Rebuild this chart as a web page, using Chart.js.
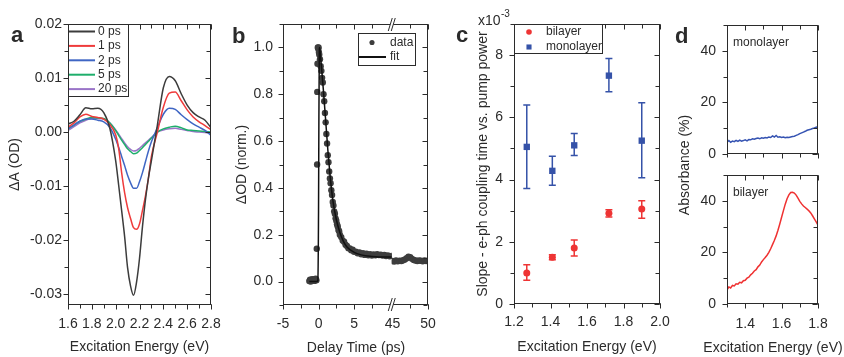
<!DOCTYPE html>
<html>
<head>
<meta charset="utf-8">
<title>Transient absorption and absorbance</title>
<script src="https://cdn.jsdelivr.net/npm/chart.js@4"></script>
<style>
  html, body { margin: 0; background: #fff; }
  #wrap { position: relative; width: 844px; height: 357px; }
  #wrap canvas { position: absolute; left: 0; top: 0; }
</style>
</head>
<body>
<div id="wrap">
  <canvas id="panelA" width="844" height="357"></canvas>
  <canvas id="panelB" width="844" height="357"></canvas>
  <canvas id="panelC" width="844" height="357"></canvas>
  <canvas id="panelDTop" width="844" height="357"></canvas>
  <canvas id="panelDBottom" width="844" height="357"></canvas>
</div>
<script>
// ---- panel a: transient spectra (dA in OD) ----
const aEnergy = [1.60, 1.65, 1.70, 1.75, 1.80, 1.85, 1.90, 1.95, 2.00, 2.025, 2.05, 2.075, 2.10, 2.125, 2.15, 2.175, 2.20, 2.225, 2.25, 2.275, 2.30, 2.35, 2.40, 2.45, 2.50, 2.55, 2.60, 2.65, 2.70, 2.75, 2.80];
const dA0ps = [0.0015, 0.0020, 0.0032, 0.0045, 0.0043, 0.0044, 0.0036, 0.0008, -0.0053, -0.0098, -0.0145, -0.0193, -0.0251, -0.0285, -0.0302, -0.0278, -0.0234, -0.0175, -0.0125, -0.0085, -0.0053, 0.0013, 0.0082, 0.0103, 0.0095, 0.0071, 0.0050, 0.0036, 0.0028, 0.0022, 0.0008];
const dA1ps = [0.0009, 0.0017, 0.0028, 0.0033, 0.0029, 0.0027, 0.0024, 0.0014, -0.0005, -0.0030, -0.0075, -0.0112, -0.0140, -0.0160, -0.0177, -0.0180, -0.0170, -0.0145, -0.0118, -0.0085, -0.0045, 0.0000, 0.0046, 0.0072, 0.0074, 0.0058, 0.0041, 0.0028, 0.0019, 0.0012, 0.0004];
const dA2ps = [0.0006, 0.0013, 0.0020, 0.0024, 0.0024, 0.0022, 0.0019, 0.0009, -0.0013, -0.0028, -0.0045, -0.0062, -0.0080, -0.0094, -0.0104, -0.0104, -0.0092, -0.0075, -0.0055, -0.0035, -0.0018, 0.0008, 0.0033, 0.0044, 0.0042, 0.0032, 0.0023, 0.0015, 0.0009, 0.0003, -0.0006];
const dA5ps = [0.0006, 0.0013, 0.0020, 0.0024, 0.0027, 0.0026, 0.0025, 0.0017, 0.0003, -0.0006, -0.0015, -0.0023, -0.0031, -0.0036, -0.0040, -0.0039, -0.0034, -0.0029, -0.0023, -0.0017, -0.0011, 0.0000, 0.0006, 0.0009, 0.0011, 0.0008, 0.0004, 0.0003, 0.0002, 0.0001, 0.0000];
const dA20ps = [0.0003, 0.0010, 0.0017, 0.0022, 0.0025, 0.0025, 0.0024, 0.0017, 0.0004, -0.0004, -0.0012, -0.0020, -0.0027, -0.0032, -0.0035, -0.0034, -0.0030, -0.0025, -0.0020, -0.0015, -0.0010, 0.0000, 0.0004, 0.0006, 0.0007, 0.0005, 0.0003, 0.0001, 0.0000, -0.0001, -0.0002];
const aEnergyTicks = [1.6, 1.8, 2.0, 2.2, 2.4, 2.6, 2.8];
const aSignalTicks = [-0.03, -0.02, -0.01, 0, 0.01, 0.02];

// ---- panel b: normalised kinetics, broken time axis ----
const bEarlyTime = [-1.3, -1.2, -1.1, -1.0, -0.9, -0.8, -0.7, -0.6, -0.5, -0.4, -0.3, -0.25, -0.2, -0.18, -0.15, -0.1, -0.05, 0.0, 0.05, 0.1, 0.2, 0.3, 0.4, 0.5, 0.6, 0.7, 0.8, 0.9, 1.0, 1.1, 1.2, 1.3, 1.4, 1.5, 1.6, 1.7, 1.8, 1.9, 2.0, 2.1, 2.2, 2.3, 2.4, 2.5, 2.6, 2.7, 2.8, 2.9, 3.0, 3.2, 3.4, 3.6, 3.8, 4.0, 4.2, 4.4, 4.6, 4.8, 5.0, 5.25, 5.5, 5.75, 6.0, 6.25, 6.5, 6.75, 7.0, 7.25, 7.5, 7.75, 8.0, 8.25, 8.5, 8.75, 9.0, 9.25, 9.5, 9.75, 10.0, 10.25];
const bEarlySignal = [0.002, 0.008, 0.000, 0.006, 0.010, 0.004, 0.009, 0.003, 0.008, 0.012, 0.006, 0.14, 0.50, 0.81, 0.93, 1.00, 0.995, 1.00, 0.98, 0.97, 0.95, 0.92, 0.90, 0.87, 0.85, 0.80, 0.77, 0.72, 0.68, 0.63, 0.59, 0.54, 0.51, 0.47, 0.44, 0.42, 0.39, 0.37, 0.34, 0.325, 0.30, 0.29, 0.27, 0.26, 0.245, 0.235, 0.22, 0.215, 0.20, 0.19, 0.175, 0.17, 0.157, 0.152, 0.142, 0.142, 0.134, 0.136, 0.127, 0.128, 0.121, 0.124, 0.117, 0.121, 0.114, 0.119, 0.112, 0.117, 0.111, 0.116, 0.112, 0.117, 0.113, 0.115, 0.111, 0.114, 0.109, 0.112, 0.108, 0.110];
const bLateTime = [45, 45.25, 45.5, 45.75, 46, 46.25, 46.5, 46.75, 47, 47.25, 47.5, 47.75, 48, 48.25, 48.5, 48.75, 49, 49.25, 49.5, 49.75, 50];
const bLateSignal = [0.088, 0.086, 0.090, 0.087, 0.089, 0.088, 0.091, 0.094, 0.100, 0.106, 0.104, 0.097, 0.092, 0.090, 0.088, 0.090, 0.089, 0.087, 0.090, 0.088, 0.089];
const bFitTime = [-1.3, -0.3, -0.1, 0.0, 0.05, 0.1, 0.15, 0.3, 0.5, 0.7, 1.0, 1.3, 1.6, 2.0, 2.5, 3.0, 3.5, 4.0, 5.0, 6.0, 7.0, 8.0, 9.0, 10.3];
const bFitSignal = [0, 0, 0.005, 0.3, 0.7, 0.95, 1.0, 0.955, 0.885, 0.81, 0.69, 0.565, 0.46, 0.35, 0.265, 0.21, 0.172, 0.148, 0.125, 0.114, 0.109, 0.106, 0.105, 0.105];
const bEarlyTicks = [-5, 0, 5];
const bLateTicks = [45, 50];
const bSignalTicks = [0, 0.2, 0.4, 0.6, 0.8, 1.0];

// ---- panel c: slope (x10^-3) with error bars ----
const cEnergy = [1.27, 1.41, 1.53, 1.72, 1.90];
const biSlope = [1.00, 1.50, 1.80, 2.92, 3.05];
const biSlopeLo = [0.76, 1.42, 1.54, 2.80, 2.76];
const biSlopeHi = [1.26, 1.58, 2.06, 3.03, 3.32];
const monoSlope = [5.05, 4.28, 5.10, 7.34, 5.25];
const monoSlopeLo = [3.71, 3.82, 4.77, 6.82, 4.06];
const monoSlopeHi = [6.40, 4.75, 5.48, 7.89, 6.47];
const cEnergyTicks = [1.2, 1.4, 1.6, 1.8, 2.0];
const cSlopeTicks = [0, 2, 4, 6, 8];

// ---- panel d: absorbance (%) ----
const dEnergy = [1.30, 1.31, 1.32, 1.33, 1.34, 1.35, 1.36, 1.37, 1.38, 1.39, 1.40, 1.41, 1.42, 1.43, 1.44, 1.45, 1.46, 1.47, 1.48, 1.49, 1.50, 1.51, 1.52, 1.53, 1.54, 1.55, 1.56, 1.57, 1.58, 1.59, 1.60, 1.61, 1.62, 1.63, 1.64, 1.65, 1.66, 1.67, 1.68, 1.69, 1.70, 1.71, 1.72, 1.73, 1.74, 1.75, 1.76, 1.77, 1.78, 1.79, 1.80];
const monoAbs = [4.6, 5.2, 4.5, 5.0, 4.8, 5.3, 4.9, 5.4, 5.0, 5.2, 5.5, 5.1, 5.6, 5.5, 5.9, 5.7, 6.0, 6.2, 5.9, 6.3, 6.1, 6.4, 6.2, 6.6, 6.4, 7.0, 6.6, 7.2, 6.5, 6.7, 6.4, 6.6, 6.3, 6.5, 6.4, 6.6, 6.8, 6.9, 7.2, 7.5, 7.9, 8.2, 8.5, 8.8, 9.2, 9.4, 9.6, 9.9, 10.1, 10.4, 10.6];
const biAbs = [5.5, 6.6, 6.2, 7.2, 7.0, 7.8, 7.7, 8.4, 8.2, 9.0, 9.2, 10.0, 10.4, 11.3, 11.9, 12.8, 13.3, 14.4, 15.1, 16.3, 17.2, 18.0, 18.9, 20.0, 21.4, 23.0, 24.6, 26.4, 28.6, 31.0, 33.6, 36.2, 38.7, 40.8, 42.3, 43.2, 43.3, 43.0, 42.2, 41.0, 39.8, 38.8, 38.0, 37.4, 36.8, 36.1, 35.3, 34.2, 33.0, 31.8, 30.6];
const dEnergyTicks = [1.4, 1.6, 1.8];
const dAbsTicks = [0, 20, 40];

const FONT = "'Liberation Sans', Arial, Helvetica, sans-serif";
const INK = '#2b2b2b';
const RED = '#ee3434';
const BLUE = '#3552a8';

function pts(xs, ys) {
  return xs.map((x, i) => ({ x: x, y: ys[i] }));
}

function marker(ctx, style, x, y, r) {
  ctx.beginPath();
  if (style === 'rect') {
    const h = r * Math.SQRT1_2;
    ctx.rect(x - h, y - h, 2 * h, 2 * h);
  } else {
    ctx.arc(x, y, r, 0, Math.PI * 2);
  }
  ctx.fill();
}

// box round the plot area, ticks on all four sides (out on left/bottom, in on top/right)
const frame = {
  id: 'frame',
  afterDatasetsDraw(chart, args, o) {
    const { ctx, chartArea: a } = chart;
    const L = Math.round(a.left) + 0.5, R = Math.round(a.right) - 0.5;
    const T = Math.round(a.top) + 0.5, B = Math.round(a.bottom) - 0.5;
    const brk = o.breakAt ? chart.scales[o.breakAt].left : null;
    ctx.save();
    ctx.strokeStyle = INK;
    ctx.lineWidth = 1;
    ctx.strokeRect(L, T, R - L, B - T);
    Object.values(chart.scales).forEach(s => {
      const marks = s.ticks.map(t => [t.value, 5]);
      const step = o.minor && o.minor[s.id];
      if (step) {
        for (let k = Math.ceil(s.min / step - 1e-6); k * step <= s.max + 1e-9; k++) marks.push([k * step, 4]);
      }
      marks.forEach(([v, len]) => {
        const p = Math.round(s.getPixelForValue(v)) + 0.5;
        ctx.beginPath();
        if (s.isHorizontal()) {
          if (brk !== null && Math.abs(p - brk) < 4) return;
          ctx.moveTo(p, B); ctx.lineTo(p, B + len);
          ctx.moveTo(p, T); ctx.lineTo(p, T + len);
        } else {
          ctx.moveTo(L, p); ctx.lineTo(L - len, p);
          ctx.moveTo(R, p); ctx.lineTo(R - len, p);
        }
        ctx.stroke();
      });
    });
    if (brk !== null) {
      [T, B].forEach(y => {
        ctx.fillStyle = '#fff';
        ctx.fillRect(brk - 1.5, y - 1.5, 3, 3);
        ctx.beginPath();
        [-1.5, 1.5].forEach(dx => {
          ctx.moveTo(brk + dx - 2, y + 6.5);
          ctx.lineTo(brk + dx + 2, y - 6.5);
        });
        ctx.stroke();
      });
    }
    ctx.restore();
  }
};

// framed legend inside the plot area
const legendBox = {
  id: 'legendBox',
  afterDatasetsDraw(chart, args, o) {
    if (!o.width) return;
    const { ctx, chartArea } = chart;
    const x0 = Math.round(chartArea.left + o.left), y0 = Math.round(chartArea.top + o.top);
    ctx.save();
    ctx.fillStyle = '#fff';
    ctx.fillRect(x0, y0, o.width, o.height);
    ctx.strokeStyle = INK;
    ctx.lineWidth = 1;
    ctx.strokeRect(x0 + 0.5, y0 + 0.5, o.width, o.height);
    ctx.font = '12px ' + FONT;
    ctx.textBaseline = 'middle';
    ctx.textAlign = 'left';
    chart.data.datasets.filter(d => d.label).forEach((d, i) => {
      const y = y0 + o.row0 + i * o.rowH;
      if (d.showLine === false) {
        ctx.fillStyle = d.backgroundColor;
        marker(ctx, d.pointStyle, x0 + o.mark, y, d.pointRadius * 0.8);
      } else {
        ctx.strokeStyle = d.borderColor;
        ctx.lineWidth = 2;
        ctx.beginPath();
        ctx.moveTo(x0 + o.line[0], y);
        ctx.lineTo(x0 + o.line[1], y);
        ctx.stroke();
      }
      ctx.fillStyle = INK;
      ctx.fillText(d.label, x0 + o.text, y);
    });
    ctx.restore();
  }
};

// vertical error bars with caps, drawn under the markers
const errorBars = {
  id: 'errorBars',
  beforeDatasetsDraw(chart) {
    const { ctx } = chart;
    const y = chart.scales.y;
    chart.data.datasets.forEach((d, i) => {
      if (!d.errLo) return;
      ctx.save();
      ctx.strokeStyle = d.backgroundColor;
      ctx.lineWidth = 1.5;
      chart.getDatasetMeta(i).data.forEach((p, j) => {
        const lo = y.getPixelForValue(d.errLo[j]);
        const hi = y.getPixelForValue(d.errHi[j]);
        ctx.beginPath();
        ctx.moveTo(p.x, lo); ctx.lineTo(p.x, hi);
        ctx.moveTo(p.x - 3.5, lo); ctx.lineTo(p.x + 3.5, lo);
        ctx.moveTo(p.x - 3.5, hi); ctx.lineTo(p.x + 3.5, hi);
        ctx.stroke();
      });
      ctx.restore();
    });
  }
};

// free text: panel letters, shared titles, exponent
const notes = {
  id: 'notes',
  afterDraw(chart, args, o) {
    if (!o.items) return;
    const { ctx } = chart;
    o.items.forEach(n => {
      ctx.save();
      ctx.font = n.style;
      ctx.fillStyle = INK;
      ctx.textAlign = n.align || 'left';
      ctx.textBaseline = n.baseline || 'alphabetic';
      ctx.translate(n.x, n.y);
      if (n.rotate) ctx.rotate(n.rotate);
      ctx.fillText(n.text, 0, 0);
      ctx.restore();
    });
  }
};

Chart.register(frame, legendBox, errorBars, notes);

function axis(o) {
  return {
    type: 'linear',
    position: o.position,
    min: o.min,
    max: o.max,
    stack: o.stack,
    stackWeight: o.weight,
    grid: { display: false, drawTicks: false },
    border: { display: false },
    ticks: {
      display: o.labels !== false,
      autoSkip: false,
      maxRotation: 0,
      padding: o.pad || 0,
      color: INK,
      font: { family: FONT, size: 14 },
      callback: o.format || (v => String(v))
    },
    title: {
      display: !!o.title,
      text: o.title || '',
      color: INK,
      font: { family: FONT, size: 14 },
      padding: o.titlePad || 0
    },
    afterBuildTicks: s => { s.ticks = o.ticks.map(v => ({ value: v })); },
    afterFit: s => {
      if (s.isHorizontal()) s.height = o.size; else s.width = o.size;
      s.paddingLeft = s.paddingRight = s.paddingTop = s.paddingBottom = 0;
    }
  };
}

function options(padding, scales, plugins) {
  return {
    responsive: false,
    animation: false,
    devicePixelRatio: 1,
    events: [],
    layout: { padding: padding },
    scales: scales,
    elements: { line: { cubicInterpolationMode: 'monotone' } },
    plugins: Object.assign({ legend: { display: false }, tooltip: { enabled: false } }, plugins)
  };
}

function line(label, xs, ys, color, extra) {
  return Object.assign({
    label: label,
    data: pts(xs, ys),
    showLine: true,
    pointRadius: 0,
    borderColor: color,
    backgroundColor: color,
    borderWidth: 1.5
  }, extra || {});
}

function dots(label, xs, ys, color, extra) {
  return Object.assign({
    label: label,
    data: pts(xs, ys),
    showLine: false,
    pointRadius: 3,
    pointBorderWidth: 0,
    backgroundColor: color,
    pointBackgroundColor: color
  }, extra || {});
}

// panel a
new Chart(document.getElementById('panelA'), {
  type: 'scatter',
  data: {
    datasets: [
      line('0 ps', aEnergy, dA0ps, '#3c3c3c'),
      line('1 ps', aEnergy, dA1ps, '#ef3b3b'),
      line('2 ps', aEnergy, dA2ps, '#3f66c4'),
      line('5 ps', aEnergy, dA5ps, '#1eae6b'),
      line('20 ps', aEnergy, dA20ps, '#9a74c8')
    ]
  },
  options: options({ left: 0, top: 24, right: 633, bottom: 0 }, {
    x: axis({ position: 'bottom', min: 1.6, max: 2.8, ticks: aEnergyTicks, size: 52, pad: 11, format: v => v.toFixed(1), title: 'Excitation Energy (eV)', titlePad: { top: 0, bottom: 1 } }),
    y: axis({ position: 'left', min: -0.032, max: 0.02, ticks: aSignalTicks, size: 68, pad: 6, format: v => v.toFixed(2), title: 'ΔA (OD)', titlePad: { top: 7, bottom: 0 } })
  }, {
    frame: { minor: { x: 0.1, y: 0.005 } },
    legendBox: { left: 0, top: 0, width: 60, height: 72, row0: 7.5, rowH: 14.4, line: [1, 27], text: 30 },
    notes: { items: [{ text: 'a', x: 11, y: 42, style: 'bold 22px ' + FONT }] }
  })
});

// panel b
new Chart(document.getElementById('panelB'), {
  type: 'scatter',
  data: {
    datasets: [
      dots('data', bEarlyTime, bEarlySignal, '#3d3d3d', { xAxisID: 'x', order: 1, pointRadius: 3.2 }),
      line('fit', bFitTime, bFitSignal, '#111111', { xAxisID: 'x', order: 0 }),
      dots('', bLateTime, bLateSignal, '#3d3d3d', { xAxisID: 'x2', order: 1, pointRadius: 3.2 })
    ]
  },
  options: options({ left: 225, top: 24, right: 416, bottom: 0 }, {
    x: axis({ position: 'bottom', stack: 'delay', weight: 15.3, min: -5, max: 10.3, ticks: bEarlyTicks, size: 52, pad: 11 }),
    x2: axis({ position: 'bottom', stack: 'delay', weight: 5.1, min: 44.9, max: 50, ticks: bLateTicks, size: 52, pad: 11 }),
    y: axis({ position: 'left', min: -0.1, max: 1.1, ticks: bSignalTicks, size: 58, pad: 10, format: v => v.toFixed(1), title: 'ΔOD (norm.)', titlePad: { top: 9, bottom: 0 } })
  }, {
    frame: { minor: { x: 2.5, x2: 2.5, y: 0.1 }, breakAt: 'x2' },
    legendBox: { left: 75, top: 9, width: 57, height: 32, row0: 9.5, rowH: 14.5, mark: 14, line: [1, 28], text: 32 },
    notes: { items: [
      { text: 'b', x: 232, y: 43, style: 'bold 22px ' + FONT },
      { text: 'Delay Time (ps)', x: 356, y: 348, align: 'center', baseline: 'middle', style: '14px ' + FONT }
    ] }
  })
});

// panel c
new Chart(document.getElementById('panelC'), {
  type: 'scatter',
  data: {
    datasets: [
      dots('bilayer', cEnergy, biSlope, RED, { pointRadius: 3.5, errLo: biSlopeLo, errHi: biSlopeHi }),
      dots('monolayer', cEnergy, monoSlope, BLUE, { pointStyle: 'rect', pointRadius: 4.5, errLo: monoSlopeLo, errHi: monoSlopeHi })
    ]
  },
  options: options({ left: 464, top: 24, right: 184, bottom: 0 }, {
    x: axis({ position: 'bottom', min: 1.2, max: 2.0, ticks: cEnergyTicks, size: 53, pad: 10, format: v => v.toFixed(1), title: 'Excitation Energy (eV)', titlePad: { top: 0, bottom: 1 } }),
    y: axis({ position: 'left', min: 0, max: 9, ticks: cSlopeTicks, size: 50, pad: 11, title: 'Slope - e-ph coupling time vs. pump power', titlePad: { top: 11, bottom: 0 } })
  }, {
    frame: { minor: { x: 0.1, y: 1 } },
    legendBox: { left: 0, top: 0, width: 88, height: 29, row0: 8, rowH: 15, mark: 15, text: 32 },
    notes: { items: [
      { text: 'c', x: 456, y: 42, style: 'bold 22px ' + FONT },
      { text: 'x10', x: 478, y: 25, style: '14px ' + FONT },
      { text: '-3', x: 501, y: 17, style: '10px ' + FONT }
    ] }
  })
});

// panel d, monolayer (top)
new Chart(document.getElementById('panelDTop'), {
  type: 'scatter',
  data: { datasets: [line('', dEnergy, monoAbs, '#3553b2', { cubicInterpolationMode: 'default', tension: 0 })] },
  options: options({ left: 687, top: 25, right: 26, bottom: 193 }, {
    x: axis({ position: 'bottom', min: 1.3, max: 1.8, ticks: dEnergyTicks, size: 10, labels: false }),
    y: axis({ position: 'left', min: 0, max: 50, ticks: dAbsTicks, size: 40, pad: 11 })
  }, {
    frame: { minor: { x: 0.1, y: 10 } },
    notes: { items: [
      { text: 'd', x: 675, y: 43, style: 'bold 22px ' + FONT },
      { text: 'monolayer', x: 733, y: 43, baseline: 'middle', style: '12px ' + FONT },
      { text: 'Absorbance (%)', x: 685, y: 165, align: 'center', baseline: 'middle', rotate: -Math.PI / 2, style: '14px ' + FONT }
    ] }
  })
});

// panel d, bilayer (bottom); the axis title is wider than the plot, so it is drawn as a note
new Chart(document.getElementById('panelDBottom'), {
  type: 'scatter',
  data: { datasets: [line('', dEnergy, biAbs, '#ef3131', { cubicInterpolationMode: 'default', tension: 0 })] },
  options: options({ left: 687, top: 175, right: 26, bottom: 0 }, {
    x: axis({ position: 'bottom', min: 1.3, max: 1.8, ticks: dEnergyTicks, size: 53, pad: 12, format: v => v.toFixed(1) }),
    y: axis({ position: 'left', min: 0, max: 50, ticks: dAbsTicks, size: 40, pad: 11 })
  }, {
    frame: { minor: { x: 0.1, y: 10 } },
    notes: { items: [
      { text: 'bilayer', x: 733, y: 193, baseline: 'middle', style: '12px ' + FONT },
      { text: 'Excitation Energy (eV)', x: 773, y: 348, align: 'center', baseline: 'middle', style: '14px ' + FONT }
    ] }
  })
});
</script>
</body>
</html>
